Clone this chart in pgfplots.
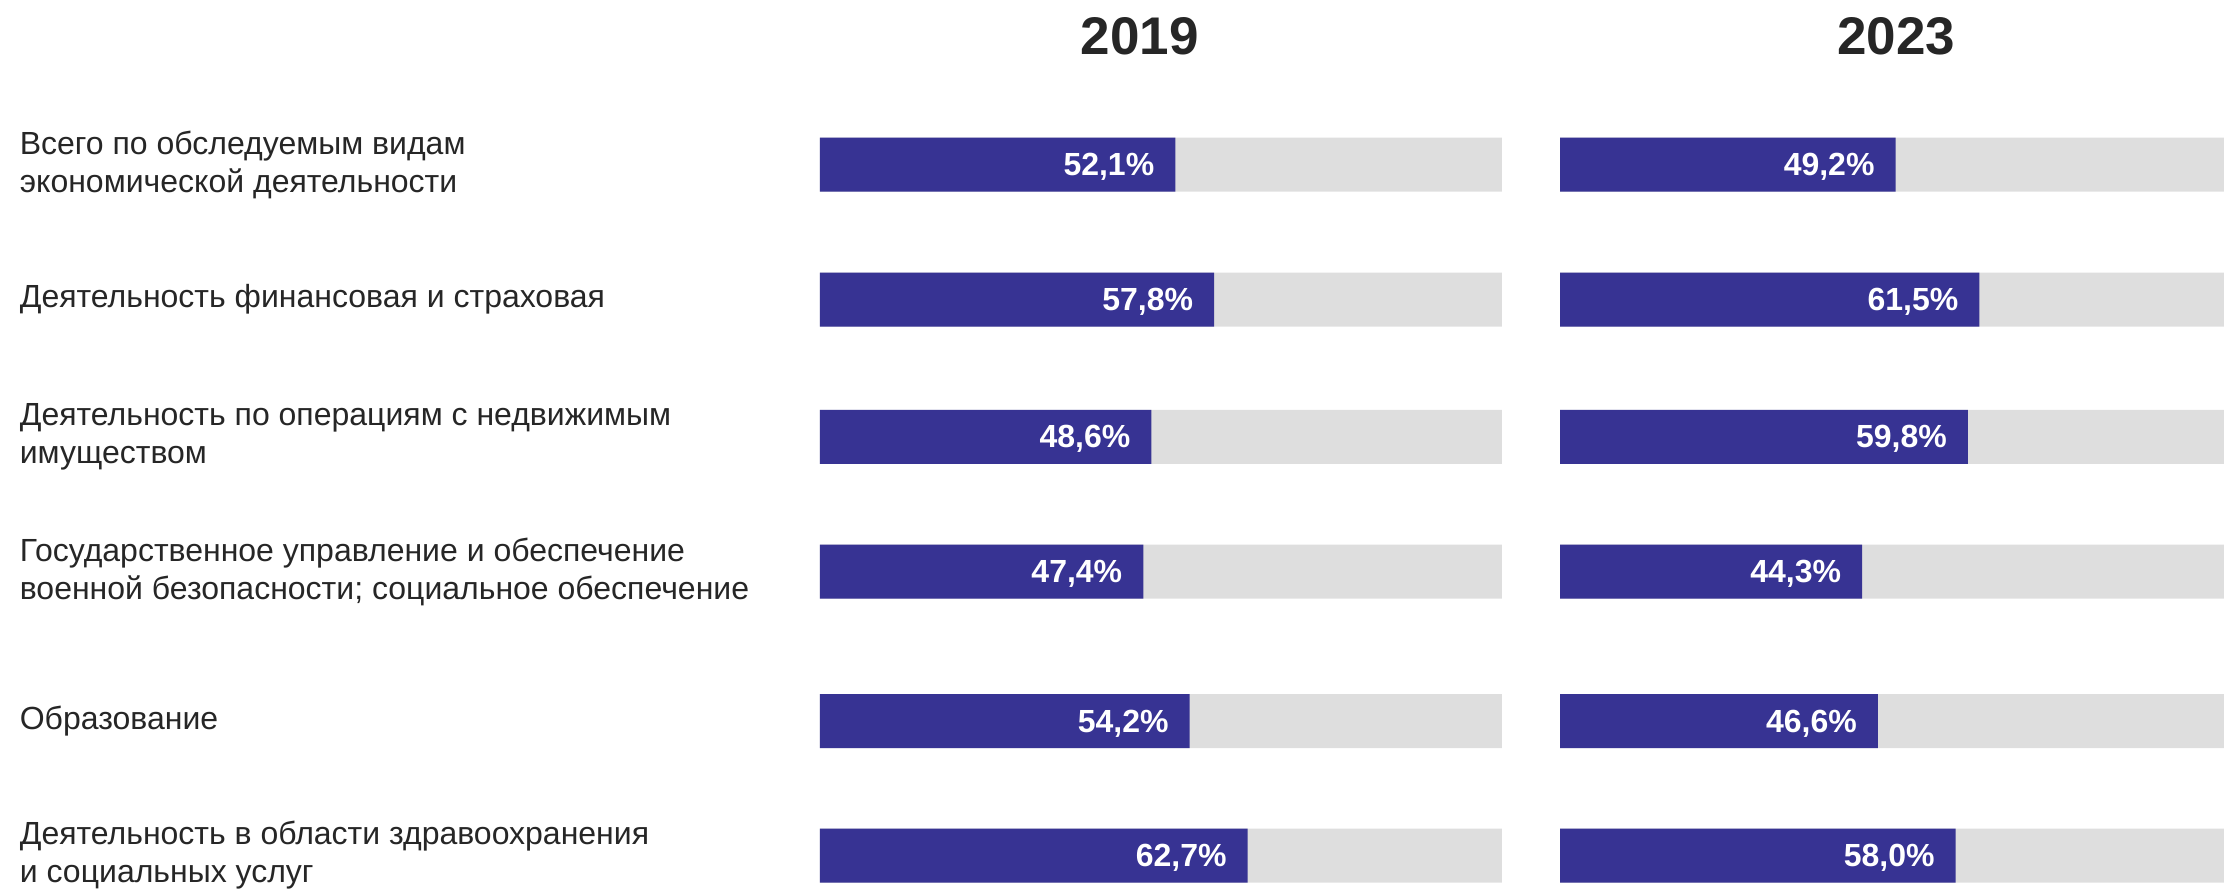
\documentclass[border=0pt]{standalone}
\usepackage{pgfplots}
\pgfplotsset{compat=1.18}
\usepackage{fontspec}
\setmainfont{Liberation Sans}
\definecolor{barblue}{HTML}{373393}
\definecolor{bargray}{HTML}{DEDEDE}
\definecolor{txt}{HTML}{262626}
\begin{document}
\begin{tikzpicture}
\pgfplotsset{
  panel/.style={
    xbar, scale only axis,
    width=341pt, height=396.5pt,
    xmin=0, xmax=100, ymin=100, ymax=893, y dir=reverse,
    axis line style={draw=none}, tick style={draw=none},
    xtick=\empty, clip=false,
    bar width=54,
    anchor=north west,
  },
  valbar/.style={fill=barblue, draw=none, bar shift=0pt,
    point meta=explicit symbolic, nodes near coords,
    every node near coord/.append style={anchor=east, xshift=-7pt, text depth=0pt,
      text=white, font=\fontsize{16}{19}\selectfont\bfseries}},
  backbar/.style={fill=bargray, draw=none, bar shift=0pt},
}
% 2019
\begin{axis}[panel, at={(410pt,-50pt)},
  ytick={164.7,299.5,436.8,571.5,721.2,855.5},
  yticklabels={{Всего по обследуемым видам\\экономической деятельности},
    {Деятельность финансовая и страховая},
    {Деятельность по операциям с недвижимым\\имуществом},
    {Государственное управление и обеспечение\\военной безопасности; социальное обеспечение},
    {Образование},
    {Деятельность в области здравоохранения\\и социальных услуг}},
  yticklabel style={anchor=west, align=left, inner sep=0pt, xshift=-396pt,
    text=txt, font=\fontsize{16}{19}\selectfont}]
\addplot[backbar] coordinates {(100,164.7) (100,299.5) (100,436.8) (100,571.5) (100,721.2) (100,855.5)};
\addplot[valbar] coordinates {
  (52.1,164.7) [52,1\%]
  (57.8,299.5) [57,8\%]
  (48.6,436.8) [48,6\%]
  (47.4,571.5) [47,4\%]
  (54.2,721.2) [54,2\%]
  (62.7,855.5) [62,7\%]};
\node[text=txt, font=\fontsize{26.5}{30}\selectfont\bfseries] at (axis cs:46.9,36) {2019};
\end{axis}
% 2023
\begin{axis}[panel, at={(780pt,-50pt)}, ytick=\empty]
\addplot[backbar] coordinates {(100,164.7) (100,299.5) (100,436.8) (100,571.5) (100,721.2) (100,855.5)};
\addplot[valbar] coordinates {
  (49.2,164.7) [49,2\%]
  (61.5,299.5) [61,5\%]
  (59.8,436.8) [59,8\%]
  (44.3,571.5) [44,3\%]
  (46.6,721.2) [46,6\%]
  (58.0,855.5) [58,0\%]};
\node[text=txt, font=\fontsize{26.5}{30}\selectfont\bfseries] at (axis cs:49.3,36) {2023};
\end{axis}
\pgfresetboundingbox
\path[use as bounding box] (0,0) rectangle (1112pt,-446.5pt);
\end{tikzpicture}
\end{document}
